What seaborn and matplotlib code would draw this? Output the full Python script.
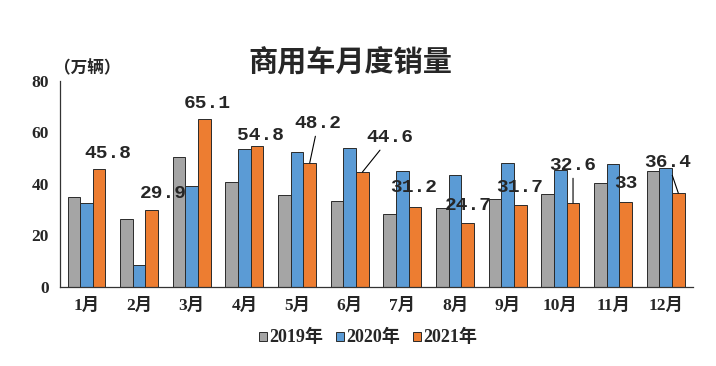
import pandas as pd
import numpy as np
import seaborn as sns
import matplotlib.pyplot as plt

months = ['1月', '2月', '3月', '4月', '5月', '6月', '7月', '8月', '9月', '10月', '11月', '12月']
years = ['2019年', '2020年', '2021年']
sales_2019 = [35.0, 26.5, 50.5, 40.9, 35.6, 33.2, 28.5, 30.8, 34.3, 35.9, 40.4, 44.9]
sales_2020 = [32.4, 8.7, 39.1, 53.7, 52.4, 54.0, 45.1, 43.4, 48.2, 45.3, 47.6, 46.1]
sales_2021 = [45.8, 29.9, 65.1, 54.8, 48.2, 44.6, 31.2, 24.7, 31.7, 32.6, 33.0, 36.4]
colors = ['#A5A5A5', '#5B9BD5', '#ED7D31']

# where the 2021 labels sit (data coords), and which ones get a leader line
label_pos = [(0.40, 51.9), (1.46, 36.4), (2.30, 71.3), (3.30, 58.9), (4.40, 63.6), (5.77, 58.1),
             (6.22, 38.7), (7.25, 31.7), (8.22, 38.7), (9.24, 47.3), (10.25, 40.3), (11.04, 48.4)]
leader = [False, False, False, False, True, True, False, False, False, True, False, True]

df = pd.DataFrame({'month': months * 3,
                   'year': np.repeat(years, 12),
                   'value': sales_2019 + sales_2020 + sales_2021})

sns.set_style('white')
plt.rcParams['font.family'] = ['Noto Sans CJK SC', 'DejaVu Sans']

fig = plt.figure(figsize=(7.16, 3.66), dpi=100)
ax = fig.add_axes([0.084, 0.216, 0.884, 0.563])
sns.barplot(data=df, x='month', y='value', hue='year', palette=colors, width=0.72,
            saturation=1, edgecolor='#2a2a2a', linewidth=0.7, ax=ax, legend=True)

ax.set_ylim(0, 80)
ax.set_xlim(-0.5, 11.52)
ax.set_yticks([0, 20, 40, 60, 80])
ax.set_xlabel('')
ax.set_ylabel('')
for s in ['top', 'right']:
    ax.spines[s].set_visible(False)
for s in ['left', 'bottom']:
    ax.spines[s].set_color('#333333')
    ax.spines[s].set_linewidth(0.9)
ax.tick_params(axis='both', length=0, pad=8)
for t in ax.get_yticklabels() + ax.get_xticklabels():
    t.set_fontfamily(['Liberation Serif', 'Noto Sans CJK SC'])
    t.set_fontweight('bold')
    t.set_fontsize(12.5)

# labels on the 2021 bars
for bar, v, (lx, ly), ln in zip(ax.containers[2], sales_2021, label_pos, leader):
    bx = bar.get_x() + bar.get_width() / 2
    by = bar.get_height()
    props = dict(arrowstyle='-', color='black', lw=0.8, shrinkA=1, shrinkB=0) if ln else None
    ax.annotate(f'{v:g}', xy=(bx, by), xytext=(lx, ly), ha='center', va='center',
                fontsize=14, fontfamily='Liberation Mono', fontweight='bold',
                arrowprops=props)

leg = ax.legend(loc='center', bbox_to_anchor=(0.514, 0.079), bbox_transform=fig.transFigure,
                ncol=3, frameon=False, handlelength=0.6, handleheight=0.6, handletextpad=0.15,
                columnspacing=0.9)
for t in leg.get_texts():
    t.set_fontfamily(['Liberation Serif', 'Noto Sans CJK SC'])
    t.set_fontweight('bold')
    t.set_fontsize(13)

fig.text(0.489, 0.83, '商用车月度销量', ha='center', va='center', fontsize=21, fontweight='bold')
fig.text(0.076, 0.812, '（万辆）', ha='left', va='center', fontsize=12, fontweight='bold')

fig.savefig('out.png', dpi=100)
